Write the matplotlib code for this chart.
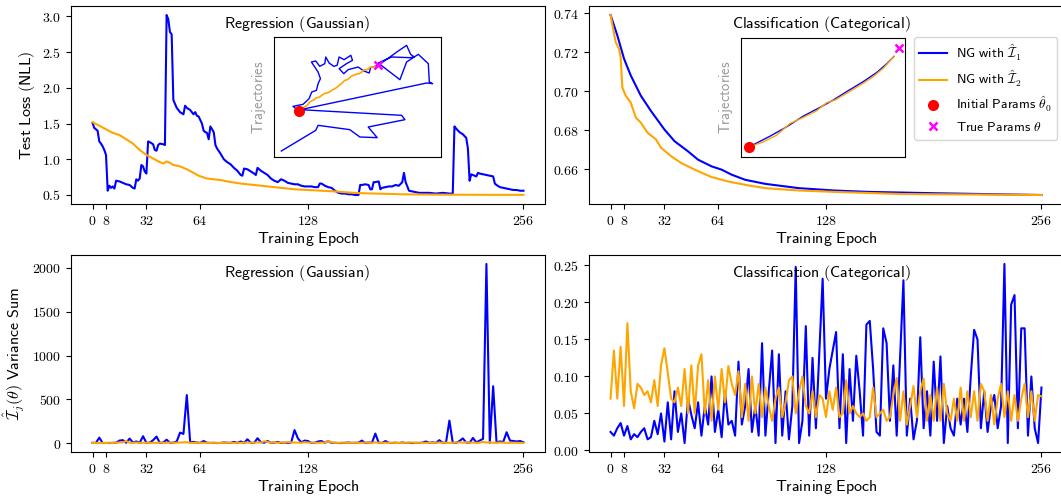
import numpy as np
import matplotlib
matplotlib.use("Agg")
from matplotlib import pyplot as plt
from matplotlib.lines import Line2D
from matplotlib.ticker import FuncFormatter

plt.rcParams['mathtext.fontset'] = 'cm'

BLUE = '#0000ff'
ORANGE = '#ffa500'

xticks = [0, 8, 32, 64, 128, 256]

# ---- test loss, regression (Gaussian)
reg_blue_ep = [0, 1, 2, 3, 4, 5, 6, 7, 8, 9,
               10, 11, 12, 13, 14, 16, 18, 20, 22, 23,
               24, 25, 26, 27, 28, 29, 30, 31, 32, 33,
               34, 36, 37, 38, 39, 40, 42, 43, 44, 45,
               46, 47, 48, 50, 52, 54, 55, 56, 58, 60,
               61, 62, 63, 64, 65, 66, 67, 68, 69, 70,
               71, 72, 73, 74, 76, 78, 80, 82, 84, 86,
               88, 89, 90, 92, 94, 96, 97, 98, 99, 100,
               102, 104, 106, 108, 110, 112, 114, 116, 118, 120,
               122, 124, 126, 128, 130, 132, 134, 135, 136, 138,
               140, 142, 144, 146, 148, 150, 152, 154, 156, 158,
               159, 160, 162, 164, 165, 166, 167, 168, 170, 171,
               172, 174, 176, 178, 180, 182, 184, 185, 186, 187,
               188, 190, 192, 194, 196, 198, 200, 204, 208, 212,
               214, 215, 216, 218, 220, 222, 223, 224, 225, 226,
               228, 229, 230, 232, 234, 236, 238, 239, 240, 242,
               244, 246, 248, 250, 252, 254, 256]
reg_blue_loss = [1.51, 1.44, 1.42, 1.40, 1.25, 1.22, 1.18, 1.13, 1.06, 0.56,
                 0.63, 0.60, 0.62, 0.59, 0.70, 0.69, 0.67, 0.65, 0.64, 0.62,
                 0.60, 0.59, 0.72, 0.70, 0.73, 0.92, 0.90, 0.83, 0.80, 1.25,
                 1.24, 1.21, 1.13, 1.12, 1.20, 1.22, 1.21, 1.20, 3.02, 2.96,
                 2.78, 2.75, 1.83, 1.72, 1.66, 1.63, 1.75, 1.72, 1.69, 1.63,
                 1.66, 1.61, 1.60, 1.55, 1.50, 1.40, 1.38, 1.37, 1.28, 1.46,
                 1.42, 1.38, 1.20, 1.15, 1.08, 1.00, 0.96, 0.93, 0.88, 0.84,
                 0.78, 0.77, 0.87, 0.86, 0.83, 0.80, 0.78, 0.88, 0.86, 0.84,
                 0.81, 0.78, 0.73, 0.70, 0.68, 0.72, 0.70, 0.67, 0.66, 0.65,
                 0.65, 0.63, 0.62, 0.62, 0.62, 0.61, 0.61, 0.66, 0.66, 0.63,
                 0.61, 0.60, 0.56, 0.53, 0.52, 0.52, 0.51, 0.51, 0.50, 0.50,
                 0.64, 0.64, 0.65, 0.64, 0.58, 0.58, 0.68, 0.68, 0.69, 0.58,
                 0.60, 0.61, 0.62, 0.62, 0.64, 0.63, 0.68, 0.81, 0.68, 0.62,
                 0.56, 0.55, 0.54, 0.53, 0.53, 0.53, 0.53, 0.52, 0.53, 0.52,
                 0.52, 1.46, 1.43, 1.38, 1.35, 1.30, 1.15, 0.70, 0.79, 0.78,
                 0.76, 0.81, 0.80, 0.79, 0.78, 0.77, 0.76, 0.66, 0.64, 0.61,
                 0.60, 0.59, 0.58, 0.57, 0.57, 0.56, 0.56]
reg_orange_ep = [0, 4, 8, 12, 16, 20, 24, 28, 32, 36, 40, 42, 44, 46, 48, 52,
                 56, 60, 63, 68, 72, 76, 80, 88, 96, 104, 112, 120, 128, 136,
                 144, 152, 160, 168, 176, 184, 192, 208, 224, 240, 256]
reg_orange_loss = [1.52, 1.47, 1.42, 1.37, 1.34, 1.28, 1.22, 1.13, 1.06, 1.01,
                   0.96, 0.94, 0.97, 0.95, 0.92, 0.90, 0.86, 0.81, 0.77, 0.73,
                   0.72, 0.71, 0.69, 0.66, 0.64, 0.62, 0.60, 0.58, 0.57, 0.56,
                   0.55, 0.535, 0.525, 0.52, 0.515, 0.51, 0.508, 0.505, 0.503,
                   0.502, 0.502]

# ---- test loss, classification (Categorical)
cls_blue_ep = [0, 4, 8, 12, 18, 24, 32, 38, 46, 52, 60, 66, 72, 80, 92, 112,
               133, 153, 193, 256]
cls_blue_loss = [0.739, 0.7286, 0.7166, 0.708, 0.6976, 0.6898, 0.6803, 0.6743,
                 0.6691, 0.6648, 0.6614, 0.6597, 0.6571, 0.6545, 0.6524,
                 0.6502, 0.649, 0.6483, 0.6476, 0.6467]
cls_orange_ep = [0, 3, 5, 6, 7, 9, 12, 15, 18, 22, 27, 30, 36, 42, 50, 60, 70,
                 82, 92, 112, 133, 173, 256]
cls_orange_loss = [0.739, 0.7252, 0.7217, 0.7174, 0.7019, 0.6976, 0.6941,
                   0.6864, 0.6838, 0.6786, 0.6752, 0.6709, 0.6666, 0.6631,
                   0.6597, 0.6559, 0.6536, 0.6516, 0.6502, 0.649, 0.6483,
                   0.6472, 0.6467]

# ---- variance sums (every 2nd epoch)
var_ep = np.arange(0, 257, 2)
reg_var_blue = [5, 3, 64, 2, 3, 2, 4, 6, 30, 35,
                5, 53, 8, 20, 5, 80, 4, 6, 35, 76,
                3, 8, 40, 5, 6, 20, 121, 106, 549, 10,
                15, 8, 3, 25, 5, 3, 4, 2, 3, 8,
                5, 3, 15, 4, 20, 3, 45, 5, 3, 57,
                12, 6, 25, 4, 8, 15, 3, 6, 5, 8,
                150, 55, 10, 30, 25, 4, 5, 20, 25, 4,
                25, 3, 5, 2, 3, 4, 8, 3, 5, 6,
                30, 3, 8, 5, 110, 6, 3, 25, 4, 3,
                6, 2, 8, 3, 5, 2, 4, 3, 6, 20,
                4, 10, 3, 35, 5, 8, 258, 6, 4, 25,
                55, 8, 5, 60, 10, 30, 50, 2045, 5, 650,
                10, 20, 15, 125, 30, 25, 20, 25, 10]
reg_var_orange = [2, 3, 2, 4, 3, 5, 4, 6, 8, 10,
                  25, 6, 5, 8, 4, 5, 6, 3, 5, 4,
                  6, 5, 4, 8, 5, 6, 8, 10, 12, 5,
                  4, 6, 3, 5, 4, 3, 5, 4, 3, 6,
                  4, 5, 3, 6, 4, 5, 8, 6, 5, 10,
                  8, 22, 15, 6, 12, 5, 8, 6, 15, 10,
                  8, 6, 5, 12, 8, 6, 5, 4, 8, 5,
                  25, 8, 5, 4, 6, 5, 3, 4, 5, 4,
                  5, 8, 6, 4, 10, 5, 4, 6, 3, 5,
                  4, 3, 5, 4, 6, 8, 4, 5, 3, 4,
                  6, 5, 4, 8, 5, 6, 4, 5, 8, 10,
                  6, 12, 5, 8, 4, 6, 15, 8, 10, 6,
                  5, 8, 6, 5, 4, 6, 5, 4, 3]
cls_var_blue = [0.025, 0.020, 0.030, 0.037, 0.020, 0.033, 0.015, 0.022, 0.018, 0.025,
                0.030, 0.015, 0.018, 0.040, 0.022, 0.050, 0.012, 0.065, 0.015, 0.080,
                0.025, 0.050, 0.010, 0.070, 0.048, 0.030, 0.065, 0.020, 0.060, 0.035,
                0.100, 0.025, 0.055, 0.018, 0.080, 0.035, 0.040, 0.020, 0.120, 0.035,
                0.060, 0.110, 0.025, 0.060, 0.020, 0.145, 0.020, 0.080, 0.135, 0.010,
                0.130, 0.020, 0.080, 0.015, 0.060, 0.248, 0.010, 0.040, 0.168, 0.020,
                0.125, 0.030, 0.130, 0.232, 0.070, 0.110, 0.135, 0.160, 0.030, 0.130,
                0.010, 0.110, 0.040, 0.128, 0.080, 0.020, 0.170, 0.175, 0.110, 0.025,
                0.020, 0.165, 0.145, 0.040, 0.115, 0.020, 0.125, 0.230, 0.020, 0.070,
                0.015, 0.040, 0.153, 0.030, 0.080, 0.020, 0.120, 0.040, 0.127, 0.010,
                0.060, 0.030, 0.020, 0.070, 0.035, 0.070, 0.025, 0.100, 0.163, 0.150,
                0.030, 0.080, 0.025, 0.060, 0.075, 0.030, 0.060, 0.252, 0.010, 0.197,
                0.210, 0.030, 0.165, 0.165, 0.020, 0.100, 0.030, 0.010, 0.085]
cls_var_orange = [0.070, 0.135, 0.070, 0.140, 0.060, 0.172, 0.080, 0.057, 0.090, 0.085,
                  0.075, 0.080, 0.065, 0.095, 0.060, 0.115, 0.138, 0.105, 0.070, 0.065,
                  0.085, 0.060, 0.110, 0.050, 0.115, 0.050, 0.115, 0.130, 0.050, 0.095,
                  0.040, 0.100, 0.055, 0.110, 0.065, 0.114, 0.090, 0.075, 0.107, 0.045,
                  0.090, 0.040, 0.100, 0.050, 0.090, 0.045, 0.085, 0.060, 0.040, 0.070,
                  0.085, 0.045, 0.065, 0.095, 0.100, 0.050, 0.080, 0.100, 0.060, 0.050,
                  0.080, 0.045, 0.075, 0.070, 0.045, 0.080, 0.055, 0.085, 0.045, 0.050,
                  0.095, 0.050, 0.060, 0.050, 0.045, 0.050, 0.040, 0.045, 0.085, 0.045,
                  0.050, 0.055, 0.040, 0.045, 0.075, 0.098, 0.040, 0.080, 0.035, 0.060,
                  0.087, 0.045, 0.080, 0.097, 0.040, 0.075, 0.040, 0.085, 0.040, 0.090,
                  0.050, 0.040, 0.070, 0.040, 0.085, 0.040, 0.080, 0.045, 0.080, 0.040,
                  0.090, 0.080, 0.040, 0.075, 0.035, 0.070, 0.090, 0.045, 0.080, 0.040,
                  0.075, 0.040, 0.070, 0.090, 0.045, 0.080, 0.040, 0.075, 0.073]

# ---- parameter trajectories (insets)
reg_traj_blue_x = [1.50, 1.14, 1.74, 2.10, 2.26, 2.54, 2.64, 2.78, 2.64, 2.24,
                   2.50, 2.74, 3.04, 3.10, 3.30, 3.58, 3.78, 3.90, 4.20, 4.60,
                   4.70, 4.34, 3.90, 4.18, 4.44, 5.04, 5.38, 5.70, 5.78, 6.24,
                   6.94, 7.44, 7.94, 8.18, 8.40, 8.14, 7.04, 6.24, 7.54, 7.94,
                   8.64, 9.24, 9.30, 9.50, 9.14, 1.58, 7.64, 7.84, 5.64, 6.18,
                   5.14, 4.54, 2.64, 2.50, 0.44]
reg_traj_blue_y = [2.74, 3.04, 3.16, 3.50, 3.90, 4.00, 4.40, 4.70, 5.10, 5.70,
                   5.76, 5.44, 5.60, 6.00, 5.64, 5.44, 5.50, 6.00, 5.84, 6.10,
                   5.80, 5.60, 5.30, 5.00, 5.24, 5.40, 5.16, 5.04, 5.36, 5.50,
                   6.00, 6.36, 6.70, 6.16, 6.00, 5.96, 6.00, 5.64, 4.64, 5.70,
                   6.16, 5.60, 4.50, 4.40, 4.44, 2.84, 2.50, 2.24, 1.80, 1.16,
                   1.20, 1.64, 1.90, 1.60, 0.36]
reg_traj_orange_x = [1.50, 1.62, 1.74, 1.90, 2.04, 2.14, 2.24, 2.40, 2.54, 2.70,
                     2.84, 3.00, 3.14, 3.30, 3.44, 3.60, 3.74, 3.90, 4.04, 4.14,
                     4.24, 4.34, 4.44, 4.60, 4.74, 4.84, 4.94, 5.10, 5.24, 5.34,
                     5.44, 5.54, 5.64, 5.74, 5.84, 5.94, 6.04]
reg_traj_orange_y = [2.74, 2.90, 2.96, 3.04, 3.16, 3.30, 3.36, 3.44, 3.56, 3.58,
                     3.68, 3.80, 3.84, 3.88, 4.00, 4.08, 4.16, 4.30, 4.40, 4.50,
                     4.60, 4.62, 4.68, 4.82, 4.90, 4.92, 4.98, 5.00, 5.08, 5.20,
                     5.24, 5.22, 5.28, 5.38, 5.40, 5.38, 5.44]
reg_init = (1.50, 2.74)
reg_true = (6.20, 5.54)

cls_traj_blue_x = [0.48, 1.74, 2.74, 3.74, 4.74, 5.54, 6.34, 7.34, 8.14, 8.74, 9.18]
cls_traj_blue_y = [0.60, 1.24, 1.80, 2.44, 2.96, 3.40, 3.90, 4.50, 5.04, 5.56, 6.00]
cls_traj_orange_x = [0.48, 1.34, 2.14, 2.94, 3.74, 4.54, 5.14, 5.64, 6.34, 7.34,
                     7.94, 8.54, 9.18]
cls_traj_orange_y = [0.60, 0.90, 1.30, 2.00, 2.36, 2.76, 3.24, 3.40, 3.80, 4.40,
                     4.80, 5.30, 6.00]
cls_init = (0.48, 0.60)
cls_true = (9.50, 6.50)


def sf(s):
    return r'$\mathsf{' + s.replace(' ', r'\ ') + '}$'


fig = plt.figure(figsize=(10.61, 4.99), dpi=100)
W, H = 1061.0, 499.0


def px_axes(x0, y0, x1, y1):
    return fig.add_axes([x0 / W, 1 - y1 / H, (x1 - x0) / W, (y1 - y0) / H])


ax_tl = px_axes(71, 6, 545, 204)
ax_tr = px_axes(589, 6, 1063, 204)
ax_bl = px_axes(71, 255, 545, 452)
ax_br = px_axes(589, 255, 1063, 452)

ax_tl.plot(reg_blue_ep, reg_blue_loss, color=BLUE, lw=1.5)
ax_tl.plot(reg_orange_ep, reg_orange_loss, color=ORANGE, lw=1.5)
ax_tr.plot(cls_blue_ep, cls_blue_loss, color=BLUE, lw=1.5)
ax_tr.plot(cls_orange_ep, cls_orange_loss, color=ORANGE, lw=1.5)
ax_bl.plot(var_ep, reg_var_blue, color=BLUE, lw=1.5)
ax_bl.plot(var_ep, reg_var_orange, color=ORANGE, lw=1.5)
ax_br.plot(var_ep, cls_var_blue, color=BLUE, lw=1.5)
ax_br.plot(var_ep, cls_var_orange, color=ORANGE, lw=1.5)

yt = {ax_tl: ([0.5, 1.0, 1.5, 2.0, 2.5, 3.0], '{:.1f}'),
      ax_tr: ([0.66, 0.68, 0.70, 0.72, 0.74], '{:.2f}'),
      ax_bl: ([0, 500, 1000, 1500, 2000], '{:.0f}'),
      ax_br: ([0.0, 0.05, 0.10, 0.15, 0.20, 0.25], '{:.2f}')}
titles = {ax_tl: ('Regression (Gaussian)', 0.478),
          ax_tr: ('Classification (Categorical)', 0.49),
          ax_bl: ('Regression (Gaussian)', 0.478),
          ax_br: ('Classification (Categorical)', 0.49)}

for ax in (ax_tl, ax_tr, ax_bl, ax_br):
    ax.set_xlim(-12.8, 268.8)
    ax.set_xticks(xticks)
    ax.set_xticklabels(['$%d$' % t for t in xticks])
    ticks, fmt = yt[ax]
    ax.set_yticks(ticks)
    ax.yaxis.set_major_formatter(FuncFormatter(lambda v, p, f=fmt: '$' + f.format(v) + '$'))
    ax.tick_params(labelsize=10)
    ax.set_xlabel(sf('Training Epoch'), fontsize=11.5, labelpad=2)
    txt, tx = titles[ax]
    ax.text(tx, 0.96, sf(txt), transform=ax.transAxes, ha='center',
            va='top', fontsize=11.5)

ax_tl.set_ylabel(sf('Test Loss (NLL)'), fontsize=11.5)
ax_bl.set_ylabel(r'$\hat{\mathcal{I}}_j(\theta)\ \mathsf{Variance\ Sum}$', fontsize=11.5)

# insets
in_tl = px_axes(274, 37, 441, 157)
in_tl.plot(reg_traj_blue_x, reg_traj_blue_y, color=BLUE, lw=1)
in_tl.plot(reg_traj_orange_x, reg_traj_orange_y, color=ORANGE, lw=1.2)
in_tl.plot(*reg_init, 'o', color='red', ms=7)
in_tl.plot(*reg_true, 'x', color='magenta', ms=6, mew=1.8)
in_tl.set_xlim(0, 10)
in_tl.set_ylim(0, 7.2)

in_tr = px_axes(741, 38, 905, 157)
in_tr.plot(cls_traj_blue_x, cls_traj_blue_y, color=BLUE, lw=1)
in_tr.plot(cls_traj_orange_x, cls_traj_orange_y, color=ORANGE, lw=1)
in_tr.plot(*cls_init, 'o', color='red', ms=7)
in_tr.plot(*cls_true, 'x', color='magenta', ms=6, mew=1.8)
in_tr.set_xlim(0, 9.84)
in_tr.set_ylim(0, 7.1)

for ax in (in_tl, in_tr):
    ax.set_xticks([])
    ax.set_yticks([])
    ax.set_ylabel(sf('Trajectories'), color='#999999', fontsize=10.5, labelpad=4)

handles = [Line2D([], [], color=BLUE, lw=1.5),
           Line2D([], [], color=ORANGE, lw=1.5),
           Line2D([], [], ls='none', marker='o', color='red', ms=7),
           Line2D([], [], ls='none', marker='x', color='magenta', ms=6, mew=1.8)]
labels = [r'$\mathsf{NG\ with\ }\hat{\mathcal{I}}_1$',
          r'$\mathsf{NG\ with\ }\hat{\mathcal{I}}_2$',
          r'$\mathsf{Initial\ Params\ }\hat{\theta}_0$',
          r'$\mathsf{True\ Params\ }\theta$']
fig.legend(handles, labels, loc='upper left', bbox_to_anchor=(914 / W, 1 - 37 / H),
           borderaxespad=0, fontsize=9.8, handletextpad=0.7, labelspacing=0.45)

fig.savefig('out.png', dpi=100)
